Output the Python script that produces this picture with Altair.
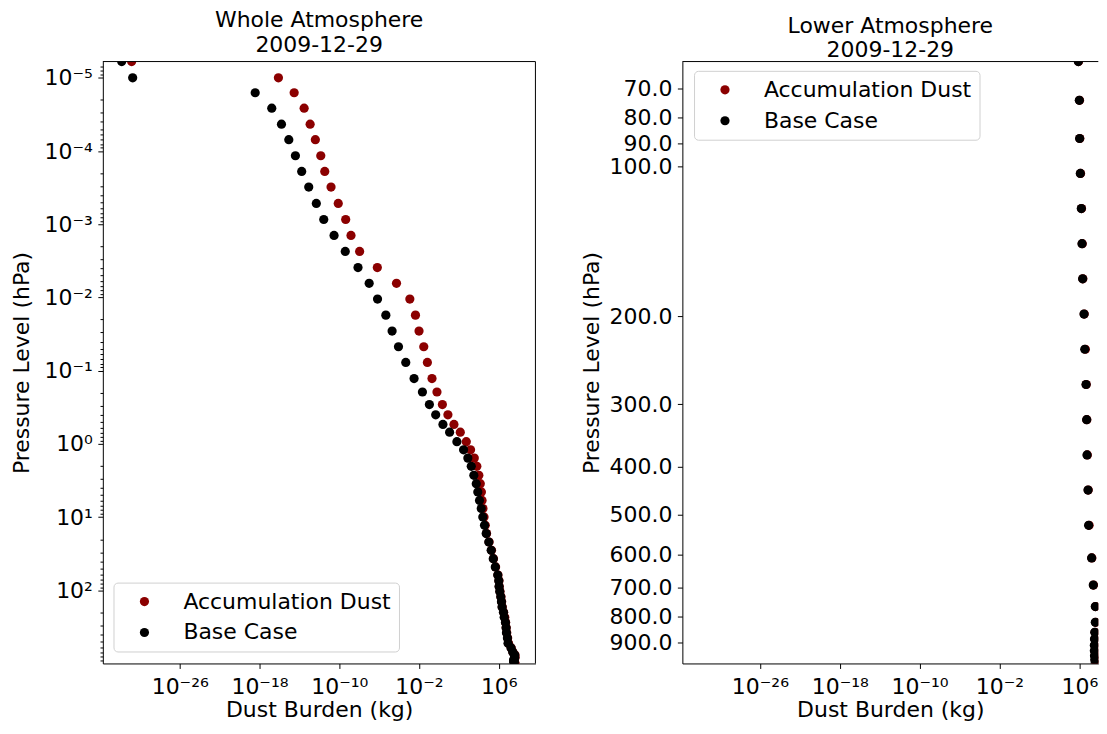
import math
import altair as alt
import pandas as pd

FONT = "DejaVu Sans"
FS = 22

# Pressure levels (hPa)
PRESSURE = [6.0e-6, 1.0e-5, 1.6e-5, 2.6e-5, 4.3e-5, 7.0e-5, 1.16e-4, 1.9e-4, 3.1e-4, 5.2e-4,
            8.6e-4, 1.42e-3, 2.35e-3, 3.9e-3, 6.4e-3, 1.05e-2, 1.74e-2, 2.87e-2, 4.7e-2, 7.7e-2,
            0.128, 0.195, 0.29, 0.40, 0.54, 0.69, 0.93, 1.2, 1.56, 2.02,
            2.68, 3.48, 4.51, 5.9, 7.6, 9.9, 12.9, 16.7, 21.8, 28.3,
            36.8, 47.8, 61.7, 73.8, 88.0, 103.4, 121.6, 143.0, 168.2, 197.9,
            232.8, 273.9, 322.2, 379.1, 446.0, 524.7, 609.8, 691.4, 763.4, 820.9,
            859.5, 887.0, 912.6, 936.2, 957.5, 976.3, 992.6]

# Dust burden (kg) per level
ACCUMULATION_DUST = [1.5e-31, 7.9e-17, 3.0e-15, 3.0e-14, 1.2e-13, 4.0e-13, 1.4e-12, 3.5e-12, 1.5e-11, 7.9e-11,
                     4.4e-10, 1.5e-9, 1.1e-8, 6.6e-7, 5.5e-5, 1.2e-3, 4.4e-3, 1.0e-2, 3.0e-2, 6.9e-2,
                     0.20, 0.63, 2.2, 7.9, 32.0, 138.0, 550.0, 1.48e3, 3.5e3, 6.3e3,
                     1.0e4, 1.4e4, 1.8e4, 2.1e4, 2.6e4, 3.3e4, 4.4e4, 6.0e4, 1.07e5, 1.86e5,
                     2.95e5, 4.8e5, 8.3e5, 1.05e6, 1.12e6, 1.32e6, 1.66e6, 1.95e6, 2.24e6, 3.1e6,
                     4.0e6, 4.9e6, 5.6e6, 6.3e6, 7.8e6, 9.5e6, 1.78e7, 2.6e7, 4.2e7, 4.3e7,
                     3.8e7, 3.6e7, 3.5e7, 3.5e7, 3.7e7, 4.0e7, 4.3e7]

BASE_CASE = [1.5e-32, 1.9e-31, 3.7e-19, 1.7e-17, 1.6e-16, 8.7e-16, 4.0e-15, 1.7e-14, 8.7e-14, 5.0e-13,
             2.8e-12, 3.0e-11, 4.0e-10, 7.6e-9, 1.0e-7, 6.9e-7, 4.7e-6, 2.0e-5, 8.7e-5, 4.7e-4,
             3.2e-3, 2.2e-2, 0.11, 0.47, 2.5, 11.7, 63.0, 295.0, 794.0, 1.74e3,
             3.16e3, 5.5e3, 7.9e3, 1.17e4, 1.74e4, 2.5e4, 3.7e4, 5.5e4, 1.0e5, 1.74e5,
             2.8e5, 4.5e5, 7.9e5, 1.0e6, 1.07e6, 1.26e6, 1.58e6, 1.86e6, 2.14e6, 2.95e6,
             3.5e6, 4.7e6, 5.4e6, 5.9e6, 7.4e6, 8.5e6, 1.7e7, 2.5e7, 4.0e7, 4.0e7,
             3.5e7, 3.3e7, 3.2e7, 3.2e7, 3.3e7, 3.5e7, 3.8e7]

SERIES = ["Accumulation Dust", "Base Case"]
COLORS = ["#8b0000", "#000000"]
PANEL_TITLES = ["Whole Atmosphere", "Lower Atmosphere"]
DATE = "2009-12-29"
X_TITLE = "Dust Burden (kg)"
Y_TITLE = "Pressure Level (hPa)"
X_TICKS = [1e-26, 1e-18, 1e-10, 1e-2, 1e6]
LEFT_Y_TICKS = [1e-5, 1e-4, 1e-3, 1e-2, 1e-1, 1e0, 1e1, 1e2]
RIGHT_Y_TICKS = [70, 80, 90, 100, 200, 300, 400, 500, 600, 700, 800, 900]
LOWER_TOP = PRESSURE[42]

# layout constants
H = 603
LEFT_W = 433.4
RIGHT_W = 416.7
LEFT_X_DOMAIN = [10 ** -33.715, 10 ** 9.677]
RIGHT_X_DOMAIN = [10 ** -33.77, 10 ** 7.9]

records = []
for name, vals in zip(SERIES, [ACCUMULATION_DUST, BASE_CASE]):
    for p, v in zip(PRESSURE, vals):
        records.append({"series": name, "pressure": p, "burden": v})
df = pd.DataFrame(records)

SUP = str.maketrans("-0123456789", "⁻⁰¹²³⁴⁵⁶⁷⁸⁹")


def pow_label_expr(ticks):
    expr = "''"
    for t in reversed(ticks):
        e = int(round(math.log10(t)))
        expr = f"(round(log(datum.value)/LN10) == {e} ? '10{str(e).translate(SUP)}' : {expr})"
    return expr


major_test = "abs(log(datum.value)/LN10 - round(log(datum.value)/LN10)) < 0.001"
minor_ticks = [m * 10.0 ** k for k in range(-6, 3) for m in range(2, 10)
               if PRESSURE[0] < m * 10.0 ** k < PRESSURE[-1]]


def x_axis(width):
    return alt.Axis(values=X_TICKS, labelExpr=pow_label_expr(X_TICKS), title=X_TITLE,
                    titleX=width / 2, titleY=53, titleBaseline="alphabetic",
                    titleAnchor="middle", labelOverlap=False, labelFlush=False,
                    labelPadding=8)


def legend(lx, ly):
    return alt.Legend(title=None, orient="none", legendX=lx, legendY=ly, direction="vertical",
                      fillColor="white", strokeColor="#d0d0d0", cornerRadius=4, padding=8,
                      labelFont=FONT, labelFontSize=FS, labelColor="black",
                      symbolSize=85, symbolType="circle", symbolStrokeWidth=0,
                      symbolOffset=12, labelOffset=28, rowPadding=9, labelLimit=400)


def border(width, right_side):
    one = pd.DataFrame({"k": [0]})
    top = alt.Chart(one).mark_rule(color="black", strokeWidth=1).encode(
        x=alt.value(0), x2=alt.value(width), y=alt.value(0))
    layers = [top]
    if right_side:
        layers.append(alt.Chart(one).mark_rule(color="black", strokeWidth=1).encode(
            x=alt.value(width), y=alt.value(0), y2=alt.value(H)))
    return layers


def panel_title(name):
    return alt.TitleParams(text=[name, DATE], anchor="middle", baseline="top",
                           offset=-1.4, lineHeight=25)


left_points = alt.Chart(df).mark_circle(size=85, opacity=1, clip=True).encode(
    x=alt.X("burden:Q", scale=alt.Scale(type="log", domain=LEFT_X_DOMAIN, nice=False, padding=0),
            axis=x_axis(LEFT_W)),
    y=alt.Y("pressure:Q",
            scale=alt.Scale(type="log", domain=[PRESSURE[0], PRESSURE[-1]], nice=False,
                            reverse=True, padding=0),
            axis=alt.Axis(values=LEFT_Y_TICKS + minor_ticks,
                          labelExpr=f"{major_test} ? {pow_label_expr(LEFT_Y_TICKS)} : ''",
                          tickSize={"condition": {"test": major_test, "value": 5}, "value": 2.8},
                          title=Y_TITLE, titleX=-74.6, titleY=H / 2, titleBaseline="alphabetic",
                          labelOverlap=False, labelFlush=False)),
    color=alt.Color("series:N", scale=alt.Scale(domain=SERIES, range=COLORS),
                    legend=legend(10.7, 522)),
)

left = alt.layer(left_points, *border(LEFT_W, True)).properties(
    width=LEFT_W, height=H, title=panel_title(PANEL_TITLES[0]))

right_points = alt.Chart(df).transform_filter(
    alt.datum.pressure >= LOWER_TOP
).mark_circle(size=85, opacity=1, clip=True).encode(
    x=alt.X("burden:Q", scale=alt.Scale(type="log", domain=RIGHT_X_DOMAIN, nice=False, padding=0),
            axis=x_axis(RIGHT_W)),
    y=alt.Y("pressure:Q",
            scale=alt.Scale(type="log", domain=[LOWER_TOP, PRESSURE[-1]], nice=False,
                            reverse=True, padding=0),
            axis=alt.Axis(values=RIGHT_Y_TICKS, labelExpr="format(datum.value, '.1f')",
                          title=Y_TITLE, titleX=-84.3, titleY=H / 2, titleBaseline="alphabetic",
                          labelOverlap=False, labelFlush=False)),
    color=alt.Color("series:N", scale=alt.Scale(domain=SERIES, range=COLORS),
                    legend=legend(11.7, 9.3)),
)

right = alt.layer(right_points, *border(RIGHT_W, False)).properties(
    width=RIGHT_W, height=H, title=panel_title(PANEL_TITLES[1]))

chart = alt.hconcat(left, right, spacing=146.6, bounds="flush").resolve_scale(
    color="independent"
).resolve_legend(color="independent").properties(
    padding={"left": 2, "top": 0, "right": 0, "bottom": 0}
).configure(font=FONT).configure_axis(
    labelFont=FONT, titleFont=FONT, labelFontSize=FS, titleFontSize=FS,
    titleFontWeight="normal", labelColor="black", titleColor="black",
    tickColor="black", domainColor="black", domainWidth=1, tickWidth=1,
    grid=False, tickSize=5, labelPadding=5.5,
).configure_view(stroke=None).configure_title(
    font=FONT, fontSize=FS, fontWeight="normal", color="black"
)

chart.save("out.html", embed_options={"renderer": "svg", "actions": False})
